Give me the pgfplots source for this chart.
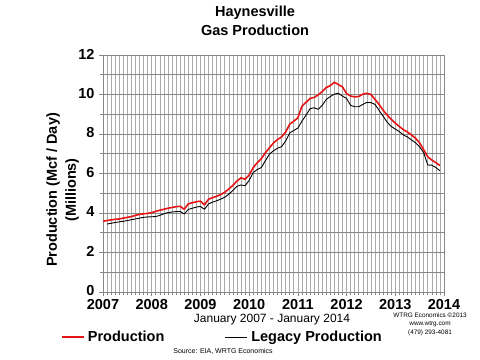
\documentclass[border=0pt]{standalone}
\usepackage{fontspec}
\setmainfont{Liberation Sans}
\usepackage{pgfplots}
\pgfplotsset{compat=1.18}
\definecolor{prodred}{RGB}{230,20,20}
\definecolor{hgrid}{RGB}{135,135,135}
\definecolor{vgrid}{RGB}{170,170,170}
\pgfplotstableread{
m v
0 3.58
1 3.62
2 3.65
3 3.68
4 3.70
5 3.74
6 3.78
7 3.82
8 3.88
9 3.93
10 3.96
11 3.98
12 4.02
13 4.08
14 4.14
15 4.19
16 4.24
17 4.28
18 4.32
19 4.34
20 4.19
21 4.46
22 4.52
23 4.57
24 4.60
25 4.41
26 4.70
27 4.78
28 4.85
29 4.93
30 5.05
31 5.22
32 5.40
33 5.62
34 5.78
35 5.71
36 5.92
37 6.30
38 6.55
39 6.75
40 7.05
41 7.30
42 7.55
43 7.72
44 7.85
45 8.10
46 8.50
47 8.65
48 8.82
49 9.40
50 9.60
51 9.80
52 9.85
53 9.98
54 10.15
55 10.35
56 10.45
57 10.62
58 10.50
59 10.38
60 10.05
61 9.92
62 9.88
63 9.90
64 10.02
65 10.06
66 10.00
67 9.75
68 9.50
69 9.20
70 8.96
71 8.75
72 8.55
73 8.38
74 8.22
75 8.10
76 7.95
77 7.78
78 7.55
79 7.20
80 6.85
81 6.68
82 6.55
83 6.40
}\production
\pgfplotstableread{
m v
1 3.44
2 3.48
3 3.52
4 3.55
5 3.58
6 3.62
7 3.66
8 3.70
9 3.74
10 3.78
11 3.80
12 3.81
13 3.82
14 3.88
15 3.96
16 4.02
17 4.05
18 4.07
19 4.08
20 3.95
21 4.18
22 4.24
23 4.30
24 4.33
25 4.19
26 4.46
27 4.55
28 4.62
29 4.70
30 4.80
31 4.95
32 5.15
33 5.35
34 5.42
35 5.38
36 5.65
37 6.05
38 6.20
39 6.30
40 6.65
41 6.98
42 7.15
43 7.28
44 7.36
45 7.65
46 8.05
47 8.18
48 8.30
49 8.65
50 8.95
51 9.28
52 9.33
53 9.25
54 9.45
55 9.75
56 9.90
57 10.02
58 10.06
59 9.92
60 9.80
61 9.45
62 9.38
63 9.38
64 9.50
65 9.60
66 9.59
67 9.50
68 9.20
69 8.90
70 8.60
71 8.38
72 8.25
73 8.12
74 7.95
75 7.85
76 7.70
77 7.55
78 7.35
79 7.05
80 6.43
81 6.42
82 6.30
83 6.14
}\legacy
\newcommand{\bigb}{\fontsize{14.5bp}{17bp}\selectfont\bfseries}
\begin{document}
\begin{tikzpicture}
\useasboundingbox (0bp,0bp) rectangle (480bp,360bp);
\begin{axis}[
  at={(103bp,68bp)}, anchor=south west,
  scale only axis, width=341bp, height=237bp,
  xmin=0, xmax=84, ymin=0, ymax=12,
  xtick={0,12,...,84},
  xticklabels={2007,2008,2009,2010,2011,2012,2013,2014},
  minor x tick num=11,
  ytick={0,2,...,12},
  minor y tick num=1,
  grid=both,
  major grid style={line width=0.6bp},
  minor grid style={line width=0.6bp},
  x grid style={vgrid},
  y grid style={hgrid},
  axis line style={hgrid, line width=0.8bp},
  xtick pos=lower, ytick pos=left,
  tick align=outside,
  tick style={hgrid, line width=0.6bp},
  major tick length=4bp, minor tick length=3bp,
  ticklabel style={font=\bigb},
  /pgf/number format/assume math mode=true,
  /pgf/number format/1000 sep={},
  xticklabel style={yshift=0bp},
  yticklabel style={xshift=-1bp, yshift=1bp},
  legend columns=2,
  legend style={at={(0.352,-0.19)}, anchor=center, draw=none, fill=none,
    font=\bigb, inner sep=0pt,
    nodes={inner xsep=3.5bp, inner ysep=0pt},
    /tikz/every even column/.append style={column sep=57bp}},
  legend image code/.code={\draw[#1] (0bp,0bp) -- (22bp,0bp);},
]
\addplot[prodred, line width=1.6bp, line join=round] table[x=m, y=v] {\production};
\addlegendentry{Production}
\addplot[black, line width=0.9bp, line join=round] table[x=m, y=v] {\legacy};
\addlegendentry{Legacy Production}
\end{axis}
\node[font=\bigb] at (255bp,347.5bp) {Haynesville};
\node[font=\bigb] at (255bp,330bp) {Gas Production};
\node[font=\bigb, rotate=90] at (53bp,170bp) {Production (Mcf / Day)};
\node[font=\bigb, rotate=90] at (72bp,170bp) {(Millions)};
\node[font=\fontsize{12bp}{14bp}\selectfont] at (272bp,40bp) {January 2007 - January 2014};
\node[font=\fontsize{7bp}{8bp}\selectfont] at (223bp,9bp) {Source: EIA, WRTG Economics};
\node[font=\fontsize{6.4bp}{8.6bp}\selectfont, align=center] at (430bp,36bp) {WTRG Economics \textcopyright2013\\www.wtrg.com\\(479) 293-4081};
\end{tikzpicture}
\end{document}
